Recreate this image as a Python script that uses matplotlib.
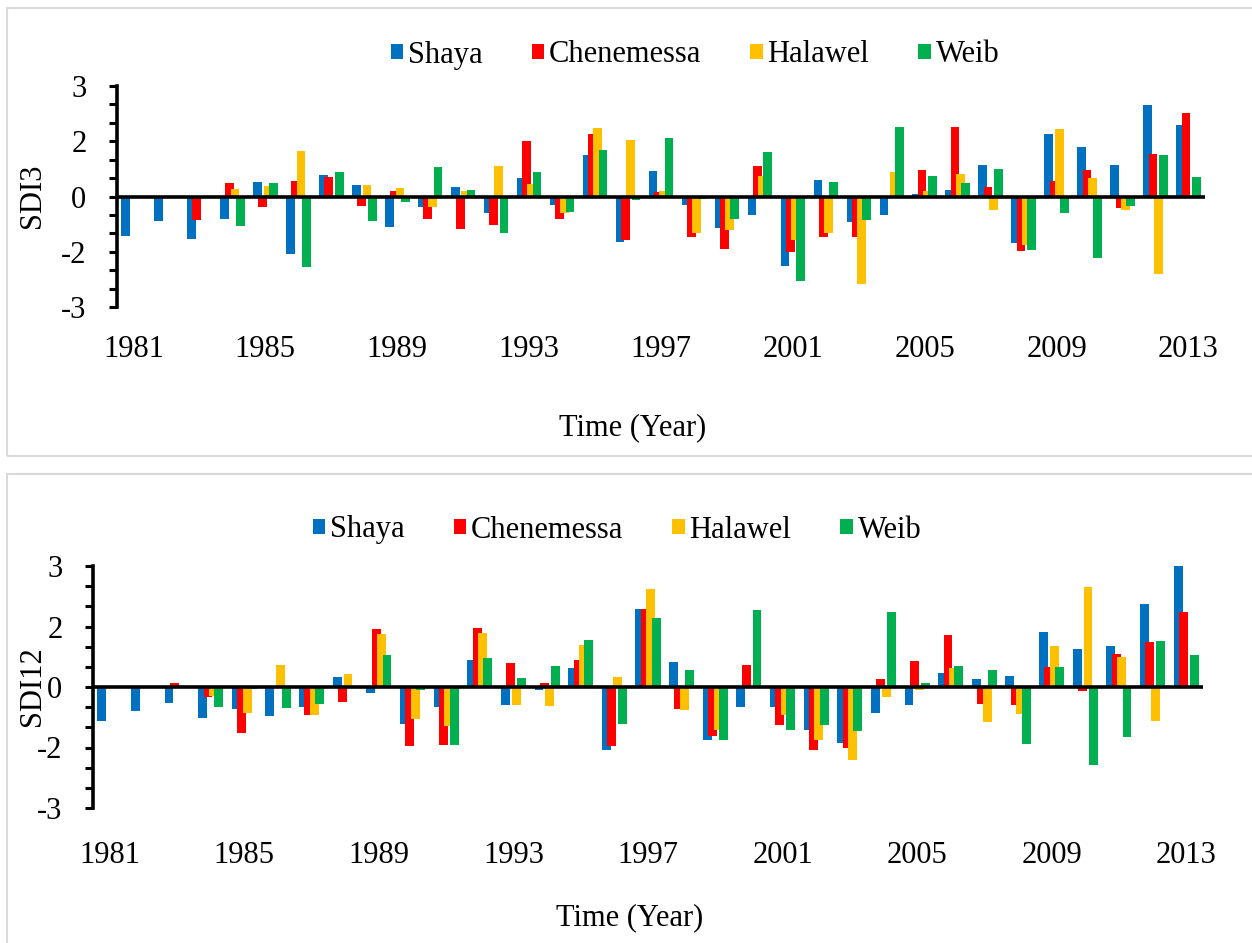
import numpy as np
import matplotlib
matplotlib.use("Agg")
from matplotlib import pyplot as plt
from matplotlib import ticker as mtick
from matplotlib.patches import Patch, Rectangle

plt.rcParams['font.family'] = ['Liberation Serif', 'DejaVu Serif']

years = list(range(1981, 2014))
stations = ["Shaya", "Chenemessa", "Halawel", "Weib"]
colors = ["#0070C0", "#FF0000", "#FFC000", "#00B050"]

# SDI3 values
shaya3 = [-1.06, -0.67, -1.16, -0.60, 0.39, -1.55, 0.58, 0.31, -0.83, -0.28, 0.26,
          -0.44, 0.51, -0.24, 1.14, -1.24, 0.70, -0.24, -0.85, -0.51, -1.90, 0.45,
          -0.68, -0.51, 0.07, 0.17, 0.85, -1.26, 1.69, 1.34, 0.85, 2.49, 1.93]
chen3 = [0, 0, -0.63, 0.38, -0.29, 0.42, 0.53, -0.25, 0.15, -0.60, -0.89,
         -0.78, 1.52, -0.61, 1.70, -1.17, 0.13, -1.11, -1.43, 0.84, -1.51, -1.10,
         -1.11, 0, 0.71, 1.88, 0.27, -1.47, 0.42, 0.71, -0.32, 1.16, 2.27]
hala3 = [0, 0, 0, 0.20, 0.28, 1.23, 0, 0.31, 0.23, -0.28, 0.14,
         0.83, 0.34, -0.45, 1.85, 1.54, 0.15, -0.98, -0.90, 0.56, -1.17, -0.99,
         -2.37, 0.67, 0.14, 0.61, -0.38, -1.33, 1.82, 0.51, -0.36, -2.11, 0]
weib3 = [0, 0, 0, -0.79, 0.36, -1.92, 0.67, -0.67, -0.14, 0.80, 0.17,
         -0.99, 0.67, -0.41, 1.26, -0.10, 1.58, -0.07, -0.62, 1.21, -2.29, 0.40,
         -0.63, 1.89, 0.57, 0.37, 0.74, -1.45, -0.46, -1.67, -0.25, 1.14, 0.52]

# SDI12 values
shaya12 = [-0.85, -0.60, -0.39, -0.77, -0.54, -0.73, -0.49, 0.26, -0.15, -0.91, -0.50,
           0.68, -0.45, -0.07, 0.46, -1.57, 1.94, 0.62, -1.31, -0.50, -0.49, -1.07,
           -1.38, -0.65, -0.44, 0.34, 0.19, 0.27, 1.37, 0.94, 1.02, 2.07, 3.0]
chen12 = [0, 0, 0.09, -0.26, -1.13, 0, -0.69, -0.37, 1.45, -1.47, -1.45,
          1.46, 0.59, 0.10, 0.68, -1.47, 1.93, -0.55, -1.22, 0.54, -0.95, -1.55,
          -1.50, 0.20, 0.65, 1.30, -0.42, -0.45, 0.50, -0.11, 0.81, 1.11, 1.87]
hala12 = [0, 0, 0, -0.22, -0.65, 0.55, -0.69, 0.31, 1.31, -0.80, -0.97,
          1.33, -0.45, -0.48, 1.03, 0.24, 2.42, -0.58, -1.07, 0, -0.70, -1.31,
          -1.81, -0.25, -0.07, 0.48, -0.86, -0.68, 1.02, 2.47, 0.75, -0.84, 0]
weib12 = [0, 0, 0, -0.50, -0.06, -0.51, -0.42, 0, 0.79, -0.08, -1.43,
          0.73, 0.22, 0.51, 1.16, -0.92, 1.70, 0.42, -1.31, 1.92, -1.07, -0.94,
          -1.10, 1.87, 0.09, 0.51, 0.43, -1.41, 0.50, -1.93, -1.25, 1.14, 0.79]

yticks = [-3, -1.5, 0, 1.5, 3]
ytick_labels = ["-3", "-2", "0", "2", "3"]
xtick_years = [1981, 1985, 1989, 1993, 1997, 2001, 2005, 2009, 2013]

fig = plt.figure(figsize=(12.52, 9.43), dpi=100)

# panel frames
fig.patches.append(Rectangle((7/1252, 1-456/943), 1.0, 448/943, transform=fig.transFigure,
                             fill=False, edgecolor="#d9d9d9", lw=1.5, zorder=0))
fig.patches.append(Rectangle((7/1252, -0.1), 1.0, 1-474/943+0.1, transform=fig.transFigure,
                             fill=False, edgecolor="#d9d9d9", lw=1.5, zorder=0))

ax1 = fig.add_axes([117/1252, 1-307/943, (1205-117)/1252, 221/943])
ax2 = fig.add_axes([93/1252, 1-808/943, (1203-93)/1252, 242/943])

x = np.arange(len(years))
offsets = [-0.24, -0.08, 0.08, 0.24]
width = 0.265


def draw_panel(ax, series, ylab, ylab_xy, xlab_xy, leg_xy, tickpad):
    for k, vals in enumerate(series):
        ax.bar(x + offsets[k], vals, width=width, color=colors[k], linewidth=0, zorder=2 + k)
    ax.axhline(0, color="black", lw=2.6, zorder=10)
    ax.set_xlim(-0.5, len(years) - 0.5)
    ax.set_ylim(-3, 3)
    ax.set_yticks(yticks)
    ax.set_yticklabels(ytick_labels)
    ax.yaxis.set_minor_locator(mtick.MultipleLocator(0.5))
    ax.tick_params(axis="y", which="both", direction="out", length=6, width=2.2,
                   labelsize=22, pad=16)
    ax.set_xticks([years.index(yr) for yr in xtick_years])
    ax.set_xticklabels([str(yr) for yr in xtick_years])
    ax.tick_params(axis="x", length=0, labelsize=22, pad=tickpad)
    for s in ["top", "right", "bottom"]:
        ax.spines[s].set_visible(False)
    ax.spines["left"].set_linewidth(2.6)
    ax.set_facecolor("none")
    fig.text(ylab_xy[0], ylab_xy[1], ylab, rotation=90, ha="center", va="center", fontsize=22)
    fig.text(xlab_xy[0], xlab_xy[1], "Time (Year)", ha="center", va="center", fontsize=22)
    handles = [Patch(facecolor=c, label=s) for c, s in zip(colors, stations)]
    fig.legend(handles=handles, loc="center", bbox_to_anchor=leg_xy, ncol=4, frameon=False,
               fontsize=22, handlelength=0.42, handleheight=0.4, handletextpad=0.15,
               columnspacing=1.6)


draw_panel(ax1, [shaya3, chen3, hala3, weib3], "SDI3",
           (33/1252, 1-196/943), (633/1252, 1-428/943), (695/1252, 1-55/943), 20)
draw_panel(ax2, [shaya12, chen12, hala12, weib12], "SDI12",
           (33/1252, 1-686/943), (630/1252, 1-918/943), (617/1252, 1-530/943), 24)

fig.savefig("out.png", dpi=100)
